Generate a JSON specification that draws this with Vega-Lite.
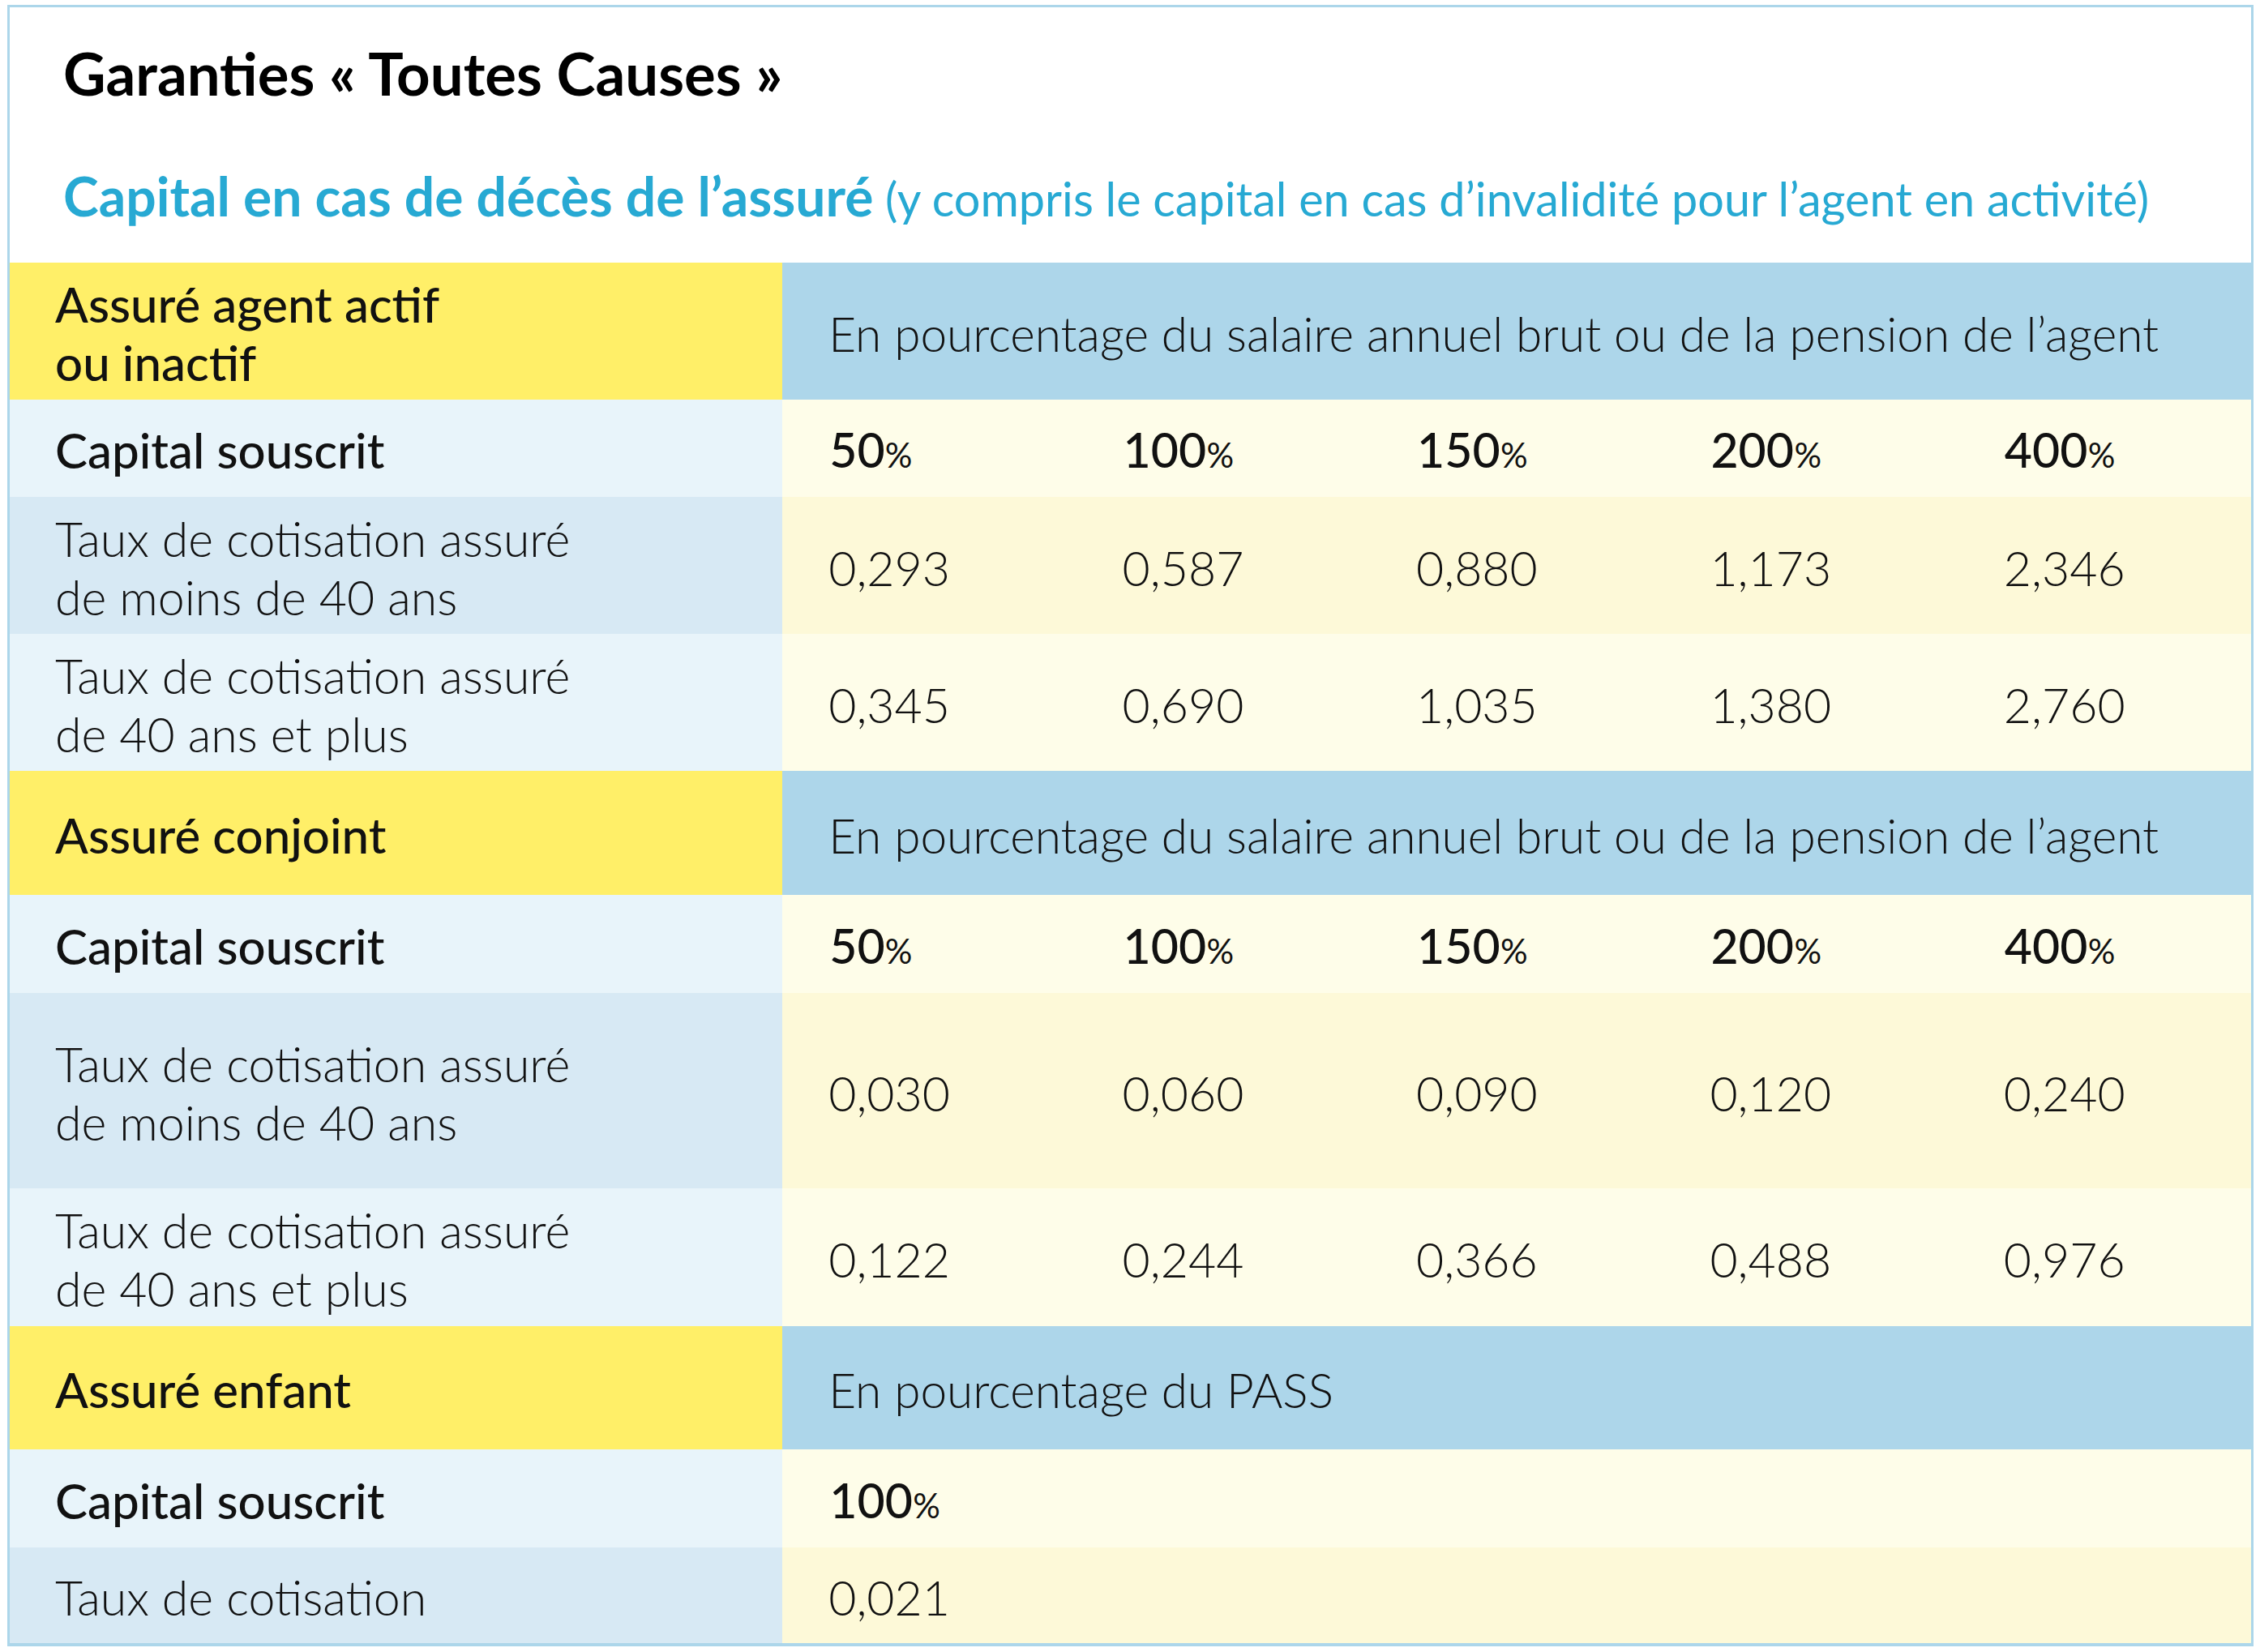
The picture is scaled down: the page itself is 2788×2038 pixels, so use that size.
{
  "$schema": "https://vega.github.io/schema/vega-lite/v6.json",
  "background": "white",
  "padding": {"left": 9, "top": 6, "right": 8, "bottom": 7},
  "autosize": {"type": "pad"},
  "config": {"view": {"stroke": null}, "text": {"font": "Lato", "color": "#111111"}},
  "datasets": {
    "titles": [
      {"part": "title", "text": "Garanties « Toutes Causes »"},
      {"part": "sub", "text": "Capital en cas de décès de l’assuré"},
      {"part": "note", "text": "(y compris le capital en cas d’invalidité pour l’agent en activité)"}
    ],
    "cells": [
      {"row": 1, "col": 0, "text": "Assuré agent actif\nou inactif"},
      {"row": 1, "col": 1, "text": "En pourcentage du salaire annuel brut ou de la pension de l’agent"},
      {"row": 2, "col": 0, "text": "Capital souscrit"},
      {"row": 2, "col": 1, "text": "50", "unit": "%"},
      {"row": 2, "col": 2, "text": "100", "unit": "%"},
      {"row": 2, "col": 3, "text": "150", "unit": "%"},
      {"row": 2, "col": 4, "text": "200", "unit": "%"},
      {"row": 2, "col": 5, "text": "400", "unit": "%"},
      {"row": 3, "col": 0, "text": "Taux de cotisation assuré\nde moins de 40 ans"},
      {"row": 3, "col": 1, "text": "0,293"},
      {"row": 3, "col": 2, "text": "0,587"},
      {"row": 3, "col": 3, "text": "0,880"},
      {"row": 3, "col": 4, "text": "1,173"},
      {"row": 3, "col": 5, "text": "2,346"},
      {"row": 4, "col": 0, "text": "Taux de cotisation assuré\nde 40 ans et plus"},
      {"row": 4, "col": 1, "text": "0,345"},
      {"row": 4, "col": 2, "text": "0,690"},
      {"row": 4, "col": 3, "text": "1,035"},
      {"row": 4, "col": 4, "text": "1,380"},
      {"row": 4, "col": 5, "text": "2,760"},
      {"row": 5, "col": 0, "text": "Assuré conjoint"},
      {"row": 5, "col": 1, "text": "En pourcentage du salaire annuel brut ou de la pension de l’agent"},
      {"row": 6, "col": 0, "text": "Capital souscrit"},
      {"row": 6, "col": 1, "text": "50", "unit": "%"},
      {"row": 6, "col": 2, "text": "100", "unit": "%"},
      {"row": 6, "col": 3, "text": "150", "unit": "%"},
      {"row": 6, "col": 4, "text": "200", "unit": "%"},
      {"row": 6, "col": 5, "text": "400", "unit": "%"},
      {"row": 7, "col": 0, "text": "Taux de cotisation assuré\nde moins de 40 ans"},
      {"row": 7, "col": 1, "text": "0,030"},
      {"row": 7, "col": 2, "text": "0,060"},
      {"row": 7, "col": 3, "text": "0,090"},
      {"row": 7, "col": 4, "text": "0,120"},
      {"row": 7, "col": 5, "text": "0,240"},
      {"row": 8, "col": 0, "text": "Taux de cotisation assuré\nde 40 ans et plus"},
      {"row": 8, "col": 1, "text": "0,122"},
      {"row": 8, "col": 2, "text": "0,244"},
      {"row": 8, "col": 3, "text": "0,366"},
      {"row": 8, "col": 4, "text": "0,488"},
      {"row": 8, "col": 5, "text": "0,976"},
      {"row": 9, "col": 0, "text": "Assuré enfant"},
      {"row": 9, "col": 1, "text": "En pourcentage du PASS"},
      {"row": 10, "col": 0, "text": "Capital souscrit"},
      {"row": 10, "col": 1, "text": "100", "unit": "%"},
      {"row": 11, "col": 0, "text": "Taux de cotisation"},
      {"row": 11, "col": 1, "text": "0,021"}
    ]
  },
  "spacing": 0,
  "hconcat": [
    {"width": 3, "height": 2025, "view": {"fill": "#acd6ea", "stroke": null}, "data": {"values": []}, "mark": {"type": "point", "opacity": 0}, "encoding": {}},
    {
      "spacing": 0,
      "vconcat": [
        {"width": 2765, "height": 3, "view": {"fill": "#acd6ea", "stroke": null}, "data": {"values": []}, "mark": {"type": "point", "opacity": 0}, "encoding": {}},
        {
          "width": 2765, "height": 315,
          "view": {"fill": "white", "stroke": null},
          "data": {"name": "titles"},
          "encoding": {
            "x": {"datum": 0, "type": "quantitative", "scale": {"domain": [0, 1]}, "axis": null},
            "y": {"datum": 1, "type": "quantitative", "scale": {"domain": [0, 1]}, "axis": null},
            "text": {"field": "text"}
          },
          "layer": [
            {"transform": [{"filter": "datum.part == 'title'"}], "mark": {"type": "text", "align": "left", "baseline": "alphabetic", "dx": 66, "dy": 109, "font": "Lato", "fontSize": 72.5, "fontWeight": "bold", "color": "#000000"}},
            {"transform": [{"filter": "datum.part == 'sub'"}], "mark": {"type": "text", "align": "left", "baseline": "alphabetic", "dx": 66, "dy": 258, "font": "Lato", "fontSize": 66, "fontWeight": "bold", "color": "#27a9d3"}},
            {"transform": [{"filter": "datum.part == 'note'"}], "mark": {"type": "text", "align": "left", "baseline": "alphabetic", "dx": 1080, "dy": 258, "font": "Lato", "fontSize": 57.6, "fontWeight": 400, "color": "#27a9d3"}}
          ]
        },
        {"spacing": 0, "hconcat": [
          {"width": 953, "height": 169, "view": {"fill": "#ffef68", "stroke": null}, "data": {"name": "cells"}, "transform": [{"filter": "datum.row == 1 && datum.col == 0"}],
           "mark": {"type": "text", "align": "left", "baseline": "middle", "dx": 56, "dy": -29, "fontSize": 60, "fontWeight": 500, "lineBreak": "\n", "lineHeight": 72},
           "encoding": {"x": {"datum": 0, "type": "quantitative", "scale": {"domain": [0, 1]}, "axis": null}, "text": {"field": "text"}}},
          {"width": 1812, "height": 169, "view": {"fill": "#add6ea", "stroke": null}, "data": {"name": "cells"}, "transform": [{"filter": "datum.row == 1 && datum.col > 0"}],
           "mark": {"type": "text", "align": "left", "baseline": "alphabetic", "dx": -124, "dy": 25, "fontSize": 58.5, "fontWeight": 300},
           "encoding": {"x": {"field": "col", "type": "ordinal", "scale": {"domain": [1, 2, 3, 4, 5], "paddingInner": 0, "paddingOuter": 0}, "axis": null}, "text": {"field": "text"}}}
        ]},
        {"spacing": 0, "hconcat": [
          {"width": 953, "height": 120, "view": {"fill": "#e8f4fa", "stroke": null}, "data": {"name": "cells"}, "transform": [{"filter": "datum.row == 2 && datum.col == 0"}],
           "mark": {"type": "text", "align": "left", "baseline": "middle", "dx": 56, "dy": 7, "fontSize": 60, "fontWeight": 500},
           "encoding": {"x": {"datum": 0, "type": "quantitative", "scale": {"domain": [0, 1]}, "axis": null}, "text": {"field": "text"}}},
          {"width": 1812, "height": 120, "view": {"fill": "#fefde9", "stroke": null}, "data": {"name": "cells"}, "transform": [{"filter": "datum.row == 2 && datum.col > 0"}],
           "encoding": {"x": {"field": "col", "type": "ordinal", "scale": {"domain": [1, 2, 3, 4, 5], "paddingInner": 0, "paddingOuter": 0}, "axis": null}},
           "layer": [
             {"mark": {"type": "text", "align": "left", "baseline": "alphabetic", "dx": -123, "dy": 24, "fontSize": 59, "fontWeight": 500}, "encoding": {"text": {"field": "text"}}},
             {"transform": [{"filter": "length(datum.text) == 2"}], "mark": {"type": "text", "align": "left", "baseline": "alphabetic", "dx": -54.5, "dy": 24, "fontSize": 42, "fontWeight": 400}, "encoding": {"text": {"field": "unit"}}},
             {"transform": [{"filter": "length(datum.text) == 3"}], "mark": {"type": "text", "align": "left", "baseline": "alphabetic", "dx": -20, "dy": 24, "fontSize": 42, "fontWeight": 400}, "encoding": {"text": {"field": "unit"}}}
           ]}
        ]},
        {"spacing": 0, "hconcat": [
          {"width": 953, "height": 169, "view": {"fill": "#d7e9f4", "stroke": null}, "data": {"name": "cells"}, "transform": [{"filter": "datum.row == 3 && datum.col == 0"}],
           "mark": {"type": "text", "align": "left", "baseline": "middle", "dx": 56, "dy": -29, "fontSize": 59, "fontWeight": 300, "lineBreak": "\n", "lineHeight": 72},
           "encoding": {"x": {"datum": 0, "type": "quantitative", "scale": {"domain": [0, 1]}, "axis": null}, "text": {"field": "text"}}},
          {"width": 1812, "height": 169, "view": {"fill": "#fdf9d8", "stroke": null}, "data": {"name": "cells"}, "transform": [{"filter": "datum.row == 3 && datum.col > 0"}],
           "mark": {"type": "text", "align": "left", "baseline": "alphabetic", "dx": -124, "dy": 25, "fontSize": 59, "fontWeight": 300},
           "encoding": {"x": {"field": "col", "type": "ordinal", "scale": {"domain": [1, 2, 3, 4, 5], "paddingInner": 0, "paddingOuter": 0}, "axis": null}, "text": {"field": "text"}}}
        ]},
        {"spacing": 0, "hconcat": [
          {"width": 953, "height": 169, "view": {"fill": "#e8f4fa", "stroke": null}, "data": {"name": "cells"}, "transform": [{"filter": "datum.row == 4 && datum.col == 0"}],
           "mark": {"type": "text", "align": "left", "baseline": "middle", "dx": 56, "dy": -29, "fontSize": 59, "fontWeight": 300, "lineBreak": "\n", "lineHeight": 72},
           "encoding": {"x": {"datum": 0, "type": "quantitative", "scale": {"domain": [0, 1]}, "axis": null}, "text": {"field": "text"}}},
          {"width": 1812, "height": 169, "view": {"fill": "#fefde9", "stroke": null}, "data": {"name": "cells"}, "transform": [{"filter": "datum.row == 4 && datum.col > 0"}],
           "mark": {"type": "text", "align": "left", "baseline": "alphabetic", "dx": -124, "dy": 25, "fontSize": 59, "fontWeight": 300},
           "encoding": {"x": {"field": "col", "type": "ordinal", "scale": {"domain": [1, 2, 3, 4, 5], "paddingInner": 0, "paddingOuter": 0}, "axis": null}, "text": {"field": "text"}}}
        ]},
        {"spacing": 0, "hconcat": [
          {"width": 953, "height": 153, "view": {"fill": "#ffef68", "stroke": null}, "data": {"name": "cells"}, "transform": [{"filter": "datum.row == 5 && datum.col == 0"}],
           "mark": {"type": "text", "align": "left", "baseline": "middle", "dx": 56, "dy": 7, "fontSize": 60, "fontWeight": 500},
           "encoding": {"x": {"datum": 0, "type": "quantitative", "scale": {"domain": [0, 1]}, "axis": null}, "text": {"field": "text"}}},
          {"width": 1812, "height": 153, "view": {"fill": "#add6ea", "stroke": null}, "data": {"name": "cells"}, "transform": [{"filter": "datum.row == 5 && datum.col > 0"}],
           "mark": {"type": "text", "align": "left", "baseline": "alphabetic", "dx": -124, "dy": 25, "fontSize": 58.5, "fontWeight": 300},
           "encoding": {"x": {"field": "col", "type": "ordinal", "scale": {"domain": [1, 2, 3, 4, 5], "paddingInner": 0, "paddingOuter": 0}, "axis": null}, "text": {"field": "text"}}}
        ]},
        {"spacing": 0, "hconcat": [
          {"width": 953, "height": 121, "view": {"fill": "#e8f4fa", "stroke": null}, "data": {"name": "cells"}, "transform": [{"filter": "datum.row == 6 && datum.col == 0"}],
           "mark": {"type": "text", "align": "left", "baseline": "middle", "dx": 56, "dy": 7, "fontSize": 60, "fontWeight": 500},
           "encoding": {"x": {"datum": 0, "type": "quantitative", "scale": {"domain": [0, 1]}, "axis": null}, "text": {"field": "text"}}},
          {"width": 1812, "height": 121, "view": {"fill": "#fefde9", "stroke": null}, "data": {"name": "cells"}, "transform": [{"filter": "datum.row == 6 && datum.col > 0"}],
           "encoding": {"x": {"field": "col", "type": "ordinal", "scale": {"domain": [1, 2, 3, 4, 5], "paddingInner": 0, "paddingOuter": 0}, "axis": null}},
           "layer": [
             {"mark": {"type": "text", "align": "left", "baseline": "alphabetic", "dx": -123, "dy": 24, "fontSize": 59, "fontWeight": 500}, "encoding": {"text": {"field": "text"}}},
             {"transform": [{"filter": "length(datum.text) == 2"}], "mark": {"type": "text", "align": "left", "baseline": "alphabetic", "dx": -54.5, "dy": 24, "fontSize": 42, "fontWeight": 400}, "encoding": {"text": {"field": "unit"}}},
             {"transform": [{"filter": "length(datum.text) == 3"}], "mark": {"type": "text", "align": "left", "baseline": "alphabetic", "dx": -20, "dy": 24, "fontSize": 42, "fontWeight": 400}, "encoding": {"text": {"field": "unit"}}}
           ]}
        ]},
        {"spacing": 0, "hconcat": [
          {"width": 953, "height": 241, "view": {"fill": "#d7e9f4", "stroke": null}, "data": {"name": "cells"}, "transform": [{"filter": "datum.row == 7 && datum.col == 0"}],
           "mark": {"type": "text", "align": "left", "baseline": "middle", "dx": 56, "dy": -29, "fontSize": 59, "fontWeight": 300, "lineBreak": "\n", "lineHeight": 72},
           "encoding": {"x": {"datum": 0, "type": "quantitative", "scale": {"domain": [0, 1]}, "axis": null}, "text": {"field": "text"}}},
          {"width": 1812, "height": 241, "view": {"fill": "#fdf9d8", "stroke": null}, "data": {"name": "cells"}, "transform": [{"filter": "datum.row == 7 && datum.col > 0"}],
           "mark": {"type": "text", "align": "left", "baseline": "alphabetic", "dx": -124, "dy": 25, "fontSize": 59, "fontWeight": 300},
           "encoding": {"x": {"field": "col", "type": "ordinal", "scale": {"domain": [1, 2, 3, 4, 5], "paddingInner": 0, "paddingOuter": 0}, "axis": null}, "text": {"field": "text"}}}
        ]},
        {"spacing": 0, "hconcat": [
          {"width": 953, "height": 170, "view": {"fill": "#e8f4fa", "stroke": null}, "data": {"name": "cells"}, "transform": [{"filter": "datum.row == 8 && datum.col == 0"}],
           "mark": {"type": "text", "align": "left", "baseline": "middle", "dx": 56, "dy": -29, "fontSize": 59, "fontWeight": 300, "lineBreak": "\n", "lineHeight": 72},
           "encoding": {"x": {"datum": 0, "type": "quantitative", "scale": {"domain": [0, 1]}, "axis": null}, "text": {"field": "text"}}},
          {"width": 1812, "height": 170, "view": {"fill": "#fefde9", "stroke": null}, "data": {"name": "cells"}, "transform": [{"filter": "datum.row == 8 && datum.col > 0"}],
           "mark": {"type": "text", "align": "left", "baseline": "alphabetic", "dx": -124, "dy": 25, "fontSize": 59, "fontWeight": 300},
           "encoding": {"x": {"field": "col", "type": "ordinal", "scale": {"domain": [1, 2, 3, 4, 5], "paddingInner": 0, "paddingOuter": 0}, "axis": null}, "text": {"field": "text"}}}
        ]},
        {"spacing": 0, "hconcat": [
          {"width": 953, "height": 152, "view": {"fill": "#ffef68", "stroke": null}, "data": {"name": "cells"}, "transform": [{"filter": "datum.row == 9 && datum.col == 0"}],
           "mark": {"type": "text", "align": "left", "baseline": "middle", "dx": 56, "dy": 7, "fontSize": 60, "fontWeight": 500},
           "encoding": {"x": {"datum": 0, "type": "quantitative", "scale": {"domain": [0, 1]}, "axis": null}, "text": {"field": "text"}}},
          {"width": 1812, "height": 152, "view": {"fill": "#add6ea", "stroke": null}, "data": {"name": "cells"}, "transform": [{"filter": "datum.row == 9 && datum.col > 0"}],
           "mark": {"type": "text", "align": "left", "baseline": "alphabetic", "dx": -124, "dy": 25, "fontSize": 58.5, "fontWeight": 300},
           "encoding": {"x": {"field": "col", "type": "ordinal", "scale": {"domain": [1, 2, 3, 4, 5], "paddingInner": 0, "paddingOuter": 0}, "axis": null}, "text": {"field": "text"}}}
        ]},
        {"spacing": 0, "hconcat": [
          {"width": 953, "height": 121, "view": {"fill": "#e8f4fa", "stroke": null}, "data": {"name": "cells"}, "transform": [{"filter": "datum.row == 10 && datum.col == 0"}],
           "mark": {"type": "text", "align": "left", "baseline": "middle", "dx": 56, "dy": 7, "fontSize": 60, "fontWeight": 500},
           "encoding": {"x": {"datum": 0, "type": "quantitative", "scale": {"domain": [0, 1]}, "axis": null}, "text": {"field": "text"}}},
          {"width": 1812, "height": 121, "view": {"fill": "#fefde9", "stroke": null}, "data": {"name": "cells"}, "transform": [{"filter": "datum.row == 10 && datum.col > 0"}],
           "encoding": {"x": {"field": "col", "type": "ordinal", "scale": {"domain": [1, 2, 3, 4, 5], "paddingInner": 0, "paddingOuter": 0}, "axis": null}},
           "layer": [
             {"mark": {"type": "text", "align": "left", "baseline": "alphabetic", "dx": -123, "dy": 24, "fontSize": 59, "fontWeight": 500}, "encoding": {"text": {"field": "text"}}},
             {"transform": [{"filter": "length(datum.text) == 2"}], "mark": {"type": "text", "align": "left", "baseline": "alphabetic", "dx": -54.5, "dy": 24, "fontSize": 42, "fontWeight": 400}, "encoding": {"text": {"field": "unit"}}},
             {"transform": [{"filter": "length(datum.text) == 3"}], "mark": {"type": "text", "align": "left", "baseline": "alphabetic", "dx": -20, "dy": 24, "fontSize": 42, "fontWeight": 400}, "encoding": {"text": {"field": "unit"}}}
           ]}
        ]},
        {"spacing": 0, "hconcat": [
          {"width": 953, "height": 118, "view": {"fill": "#d7e9f4", "stroke": null}, "data": {"name": "cells"}, "transform": [{"filter": "datum.row == 11 && datum.col == 0"}],
           "mark": {"type": "text", "align": "left", "baseline": "middle", "dx": 56, "dy": 7, "fontSize": 59, "fontWeight": 300},
           "encoding": {"x": {"datum": 0, "type": "quantitative", "scale": {"domain": [0, 1]}, "axis": null}, "text": {"field": "text"}}},
          {"width": 1812, "height": 118, "view": {"fill": "#fdf9d8", "stroke": null}, "data": {"name": "cells"}, "transform": [{"filter": "datum.row == 11 && datum.col > 0"}],
           "mark": {"type": "text", "align": "left", "baseline": "alphabetic", "dx": -124, "dy": 25, "fontSize": 59, "fontWeight": 300},
           "encoding": {"x": {"field": "col", "type": "ordinal", "scale": {"domain": [1, 2, 3, 4, 5], "paddingInner": 0, "paddingOuter": 0}, "axis": null}, "text": {"field": "text"}}}
        ]},
        {"width": 2765, "height": 4, "view": {"fill": "#acd6ea", "stroke": null}, "data": {"values": []}, "mark": {"type": "point", "opacity": 0}, "encoding": {}}
      ]
    },
    {"width": 3, "height": 2025, "view": {"fill": "#acd6ea", "stroke": null}, "data": {"values": []}, "mark": {"type": "point", "opacity": 0}, "encoding": {}}
  ]
}
